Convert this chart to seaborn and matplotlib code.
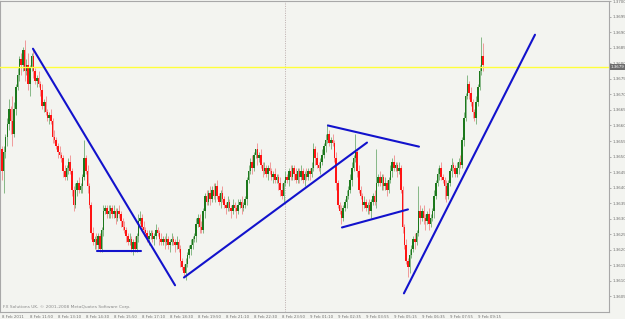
import numpy as np
import pandas as pd
import matplotlib
matplotlib.use("Agg")
import matplotlib.pyplot as plt
import matplotlib.transforms as mtransforms
import seaborn as sns

# ---------------- data (EURUSD-like M5, prices in pips above BASE) ----------------
BASE = 1.35994
PIP = 0.0001
first_open = 53
closes = [
    46, 52, 57, 61, 66, 62, 58, 66, 73, 77, 82, 80, 85, 78, 80, 74, 79, 83, 78, 75,
    76, 74, 72, 67, 68, 65, 63, 64, 62, 57, 56, 54, 52, 51, 50, 46, 44, 47, 49, 46,
    40, 35, 40, 42, 40, 41, 44, 50, 46, 41, 35, 26, 23, 24, 22, 25, 21, 27, 33, 34,
    32, 33, 34, 32, 33, 31, 33, 32, 30, 28, 27, 25, 23, 24, 21, 23, 21, 25, 30, 31,
    28, 27, 26, 24, 25, 26, 24, 25, 27, 26, 24, 23, 24, 23, 24, 22, 23, 24, 23, 22,
    23, 21, 17, 15, 13, 16, 19, 21, 22, 24, 25, 29, 31, 28, 27, 33, 38, 36, 39, 37,
    40, 38, 41, 38, 36, 39, 37, 35, 34, 36, 34, 33, 35, 34, 33, 35, 36, 34, 35, 37,
    43, 46, 49, 47, 51, 53, 50, 51, 48, 46, 47, 45, 47, 46, 44, 45, 43, 44, 42, 40,
    38, 42, 44, 43, 46, 44, 47, 45, 43, 46, 44, 46, 43, 45, 44, 46, 45, 47, 53, 50,
    48, 47, 49, 51, 54, 56, 58, 55, 56, 55, 50, 42, 35, 33, 31, 34, 36, 38, 40, 43,
    47, 50, 52, 46, 40, 38, 35, 36, 34, 35, 33, 36, 38, 36, 42, 44, 42, 44, 41, 42,
    40, 43, 46, 49, 47, 48, 46, 47, 40, 28, 22, 17, 15, 19, 21, 24, 23, 26, 33, 31,
    33, 31, 30, 32, 29, 31, 33, 38, 42, 45, 47, 44, 43, 41, 38, 42, 46, 48, 47, 45,
    47, 49, 48, 56, 63, 70, 74, 71, 68, 65, 63, 68, 73, 78, 83, 80,
]
upper_wick = [
    1, 2, 1, 2, 3, 1, 8, 2, 1, 2, 1, 2, 1, 3, 2, 4, 1, 1, 2, 1,
    1, 2, 1, 2, 1, 2, 1, 1, 2, 1, 2, 1, 1, 2, 1, 1, 2, 1, 1, 2,
    1, 1, 2, 1, 2, 1, 1, 6, 1, 2, 1, 1, 2, 1, 2, 1, 1, 1, 2, 1,
    1, 2, 1, 1, 2, 1, 1, 2, 1, 1, 2, 1, 1, 2, 1, 1, 2, 1, 2, 2,
    1, 2, 1, 1, 2, 1, 1, 1, 2, 1, 1, 2, 1, 1, 2, 1, 1, 2, 1, 1,
    2, 1, 1, 1, 1, 2, 1, 1, 2, 1, 1, 2, 1, 1, 2, 1, 1, 2, 1, 2,
    1, 2, 1, 2, 1, 1, 2, 1, 1, 2, 1, 1, 2, 1, 1, 2, 1, 2, 1, 1,
    1, 2, 1, 2, 1, 0, 2, 1, 2, 1, 2, 1, 1, 2, 1, 1, 2, 1, 1, 2,
    2, 1, 2, 1, 1, 2, 1, 1, 2, 1, 1, 2, 1, 1, 2, 1, 1, 2, 2, 1,
    2, 1, 1, 2, 1, 2, 3, 1, 1, 2, 1, 2, 1, 1, 2, 1, 1, 2, 1, 2,
    2, 1, 6, 1, 2, 1, 1, 2, 1, 1, 2, 1, 1, 2, 11, 1, 2, 1, 1, 2,
    1, 1, 2, 1, 2, 1, 1, 2, 1, 1, 1, 2, 1, 2, 1, 1, 2, 1, 8, 2,
    1, 2, 1, 1, 2, 1, 1, 2, 1, 2, 1, 2, 1, 1, 2, 1, 1, 2, 1, 1,
    2, 1, 2, 1, 2, 1, 3, 1, 2, 1, 1, 2, 1, 2, 6, 4,
]
lower_wick = [
    3, 7, 2, 3, 2, 4, 4, 1, 2, 1, 2, 3, 2, 3, 1, 2, 4, 1, 2, 1,
    2, 1, 2, 1, 2, 1, 1, 2, 1, 2, 1, 1, 2, 1, 1, 2, 1, 1, 2, 1,
    2, 2, 1, 2, 1, 1, 2, 1, 1, 2, 1, 2, 1, 2, 1, 1, 1, 1, 2, 1,
    1, 1, 2, 1, 1, 2, 1, 1, 2, 1, 1, 2, 1, 1, 1, 2, 1, 1, 2, 1,
    1, 2, 1, 1, 2, 1, 1, 2, 1, 1, 2, 1, 1, 2, 1, 1, 2, 1, 1, 2,
    1, 1, 2, 1, 1, 2, 1, 1, 2, 1, 1, 2, 1, 2, 1, 1, 2, 1, 1, 2,
    1, 1, 2, 1, 1, 2, 1, 1, 2, 1, 1, 2, 1, 1, 2, 1, 1, 2, 1, 1,
    2, 1, 1, 2, 1, 1, 2, 1, 1, 2, 1, 1, 2, 1, 1, 2, 1, 1, 2, 2,
    1, 2, 1, 1, 2, 1, 1, 2, 1, 1, 2, 1, 1, 2, 1, 1, 2, 1, 1, 2,
    1, 1, 2, 1, 1, 2, 1, 1, 2, 1, 1, 2, 1, 1, 2, 1, 1, 2, 1, 1,
    2, 1, 1, 2, 1, 1, 2, 1, 1, 2, 1, 2, 1, 1, 2, 1, 1, 2, 1, 1,
    2, 1, 1, 2, 1, 1, 2, 1, 1, 2, 1, 1, 3, 2, 1, 1, 2, 1, 1, 2,
    1, 2, 3, 1, 2, 1, 1, 2, 1, 1, 2, 1, 1, 4, 2, 1, 1, 2, 1, 1,
    1, 2, 1, 1, 2, 1, 1, 2, 1, 2, 1, 2, 1, 1, 1, 2,
]
time_labels = ["8 Feb 2011", "8 Feb 11:50", "8 Feb 13:10", "8 Feb 14:30", "8 Feb 15:50",
               "8 Feb 17:10", "8 Feb 18:30", "8 Feb 19:50", "8 Feb 21:10", "8 Feb 22:30",
               "8 Feb 23:50", "9 Feb 01:10", "9 Feb 02:35", "9 Feb 03:55", "9 Feb 05:15",
               "9 Feb 06:35", "9 Feb 07:55", "9 Feb 09:15"]
label_every = 16
price_ticks = [1.3605, 1.3610, 1.3615, 1.3620, 1.3625, 1.3630, 1.3635, 1.3640, 1.3645, 1.3650,
               1.3655, 1.3660, 1.3665, 1.3670, 1.3675, 1.3680, 1.3685, 1.3690, 1.3695, 1.3700]

# trend lines (bar index, price)
tl_bar0 = [17.7, 54.3, 104.0, 186.3, 194.3, 229.7]
tl_bar1 = [98.9, 79.4, 208.6, 238.3, 232.0, 304.6]
tl_p0 = [1.36847, 1.36195, 1.36111, 1.36600, 1.36272, 1.36060]
tl_p1 = [1.36086, 1.36195, 1.36545, 1.36532, 1.36330, 1.36892]
hline_price = 1.36789
hline_label = "1.3679"
day_separator_bar = 162
copyright_text = "FX Solutions UK, \u00a9 2001-2008 MetaQuotes Software Corp."

# ---------------- build frame ----------------
n = len(closes)
opens = [first_open] + closes[:-1]
df = pd.DataFrame({
    "bar": np.arange(n),
    "open": [BASE + o * PIP for o in opens],
    "close": [BASE + c * PIP for c in closes],
})
df["high"] = [BASE + (max(o, c) + u) * PIP for o, c, u in zip(opens, closes, upper_wick)]
df["low"] = [BASE + (min(o, c) - l) * PIP for o, c, l in zip(opens, closes, lower_wick)]
df["up"] = df["close"] >= df["open"]

lines = pd.DataFrame({
    "bar": [v for pair in zip(tl_bar0, tl_bar1) for v in pair],
    "price": [v for pair in zip(tl_p0, tl_p1) for v in pair],
    "line": [i for i in range(len(tl_bar0)) for _ in range(2)],
})

# ---------------- style ----------------
BG = "#f3f4f0"
sns.set_style("white", rc={"axes.facecolor": BG, "figure.facecolor": BG,
                           "axes.edgecolor": "#a8a8a8"})
plt.rcParams["font.family"] = ["DejaVu Sans"]

fig = plt.figure(figsize=(6.25, 3.19), dpi=100)
ax = fig.add_axes([0.0, 7 / 319, 609 / 625, 311 / 319])

GREEN, RED = "#1c781c", "#ff1414"
GREEN_W, RED_W = "#86b886", "#f09a9a"

# wicks
ax.vlines(df["bar"], df["low"], df["high"],
          colors=np.where(df["up"], GREEN_W, RED_W), linewidth=0.7, zorder=2)
# bodies
body_h = (df["close"] - df["open"]).abs().clip(lower=0.35 * PIP)
body_b = df[["open", "close"]].min(axis=1)
ax.bar(df["bar"], body_h, bottom=body_b, width=0.85,
       color=np.where(df["up"], GREEN, RED), linewidth=0, zorder=3)

# horizontal line and day separator
ax.axhline(hline_price, color="#ffff3a", lw=1.0, zorder=4)
ax.axvline(day_separator_bar, color="#b4a4a4", lw=0.6, ls=(0, (1.2, 1.6)), zorder=1)

# trend lines via seaborn
sns.lineplot(data=lines, x="bar", y="price", units="line", estimator=None, sort=False,
             color="#1212cc", linewidth=1.5, legend=False, ax=ax, zorder=5)

# axes limits (pixel calibrated)
ax.set_xlim(-1.14, 346.9)
ax.set_ylim(1.36000, 1.370005)

# y axis on right
ax.yaxis.tick_right()
ax.set_yticks(price_ticks)
ax.set_yticklabels([f"{p:.4f}" for p in price_ticks])
ax.tick_params(axis="y", length=1.5, width=0.5, color="#909090", labelsize=2.9,
               labelcolor="#707070", pad=0.8, direction="out")

# x axis
ax.set_xticks([i * label_every for i in range(len(time_labels))])
ax.set_xticklabels(time_labels)
ax.tick_params(axis="x", length=1.5, width=0.5, color="#909090", labelsize=2.8,
               labelcolor="#707070", pad=0.5, direction="out")
for lbl in ax.get_xticklabels():
    lbl.set_ha("left")
ax.set_xlabel("")
ax.set_ylabel("")

for s in ax.spines.values():
    s.set_linewidth(0.8)
    s.set_color("#a8a8a8")

# price label box
trans = mtransforms.blended_transform_factory(ax.transAxes, ax.transData)
ax.text(1.003, hline_price, hline_label, transform=trans, fontsize=2.9, color="white",
        va="center", ha="left",
        bbox=dict(boxstyle="square,pad=0.25", fc="#6c6c6c", ec="none"), zorder=6,
        clip_on=False)

# copyright
ax.text(0.005, 0.016, copyright_text, transform=ax.transAxes, fontsize=3.2,
        color="#8a8a8a", va="center", ha="left")

fig.savefig("out.png", dpi=100, facecolor=BG)
